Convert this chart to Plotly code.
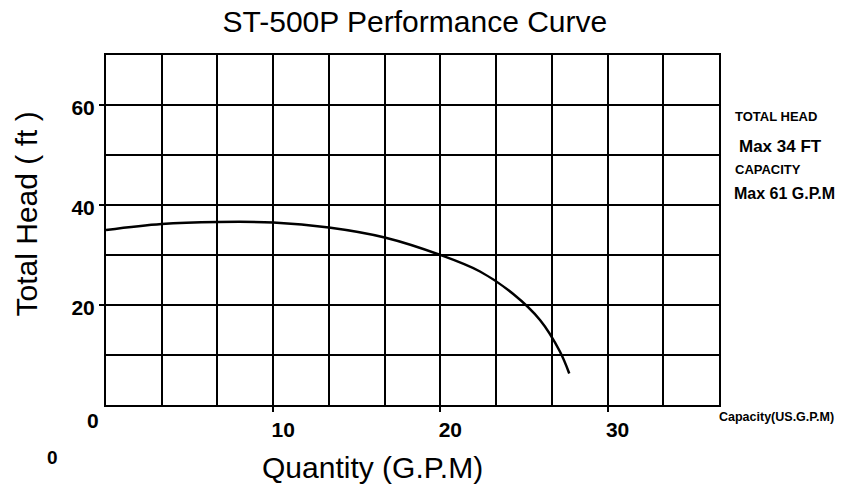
import plotly.graph_objects as go

# ---- data ----
flow_gpm = [0, 3.33, 6.67, 10, 13.33, 16.67, 20, 22.37, 24.36, 25.96, 27.15, 27.71]
head_ft = [35.0, 36.2, 36.6, 36.5, 35.5, 33.5, 30.0, 26.7, 22.2, 17.0, 10.7, 6.3]

x_tick_vals = [10, 20, 30]
x_tick_text = ["10", "20", "30"]
y_tick_vals = [20, 40, 60]
y_tick_text = ["20", "40", "60"]
x_range = [0, 110 / 3]
y_range = [0, 70]
x_minor_step = 10 / 3
y_minor_step = 10

title_text = "ST-500P Performance Curve"
x_title = "Quantity (G.P.M)"
y_title = "Total Head ( ft )"
side_notes = ["TOTAL HEAD", "Max 34 FT", "CAPACITY", "Max 61 G.P.M"]
capacity_label = "Capacity(US.G.P.M)"

FONT = "Liberation Sans, Arial, sans-serif"

fig = go.Figure()
fig.add_trace(go.Scatter(
    x=flow_gpm, y=head_ft, mode="lines",
    line=dict(color="black", width=2.5, shape="spline", smoothing=1.0),
    showlegend=False, hoverinfo="x+y",
))

axis_common = dict(
    showgrid=True, gridcolor="black", gridwidth=2,
    showline=True, linecolor="black", linewidth=2, mirror=True,
    zeroline=False, ticks="outside", ticklen=5, tickwidth=2, tickcolor="black",
    tickfont=dict(family=FONT, size=21, color="black", weight="bold"),
)

fig.update_xaxes(
    range=x_range, tickmode="array", tickvals=x_tick_vals, ticktext=x_tick_text,
    minor=dict(tickmode="linear", tick0=0, dtick=x_minor_step, showgrid=True,
               gridcolor="black", gridwidth=2, ticks=""),
    ticklabelshift=10,
    **axis_common,
)
fig.update_yaxes(
    range=y_range, tickmode="array", tickvals=y_tick_vals, ticktext=y_tick_text,
    minor=dict(tickmode="linear", tick0=0, dtick=y_minor_step, showgrid=True,
               gridcolor="black", gridwidth=2, ticks=""),
    ticklabelshift=3,
    **axis_common,
)

annotations = [
    # x-axis title
    dict(text=x_title, xref="paper", yref="paper", x=0, y=0, xanchor="center", yanchor="middle",
         xshift=266, yshift=-62, showarrow=False, font=dict(family=FONT, size=30, color="black")),
    # y-axis title
    dict(text=y_title, xref="paper", yref="paper", x=0, y=0.553, xanchor="center", yanchor="middle",
         xshift=-80, yshift=-3, textangle=-90, showarrow=False,
         font=dict(family=FONT, size=30, color="black")),
    # origin zero
    dict(text="0", xref="paper", yref="paper", x=0, y=0, xanchor="center", yanchor="middle",
         xshift=-13, yshift=-15, showarrow=False,
         font=dict(family=FONT, size=21, color="black", weight="bold")),
    # stray zero below
    dict(text="0", xref="paper", yref="paper", x=0, y=0, xanchor="center", yanchor="middle",
         xshift=-53.5, yshift=-52, showarrow=False,
         font=dict(family=FONT, size=19, color="black", weight="bold")),
    # capacity label
    dict(text=capacity_label, xref="paper", yref="paper", x=1, y=0, xanchor="left", yanchor="middle",
         xshift=-2, yshift=-12, showarrow=False,
         font=dict(family=FONT, size=12.5, color="black", weight="bold")),
]

note_pos = [(14, 0.8257, 13), (18, 0.74, 17), (14, 0.674, 13), (13, 0.604, 16)]
for txt, (xs, yp, sz) in zip(side_notes, note_pos):
    annotations.append(dict(
        text=txt, xref="paper", yref="paper", x=1, y=yp, xanchor="left", yanchor="middle",
        xshift=xs, showarrow=False,
        font=dict(family=FONT, size=sz, color="black", weight="bold"),
    ))

fig.update_layout(
    width=845, height=494,
    margin=dict(l=106, r=126, t=55, b=89),
    paper_bgcolor="white", plot_bgcolor="white",
    title=dict(text=title_text, x=0.491, y=0.956, xanchor="center", yanchor="middle",
               font=dict(family=FONT, size=30, color="black")),
    annotations=annotations,
)

fig.write_html("out.html", config={"displayModeBar": False},
               post_script="document.body.style.margin='0';document.body.style.overflow='hidden';")
